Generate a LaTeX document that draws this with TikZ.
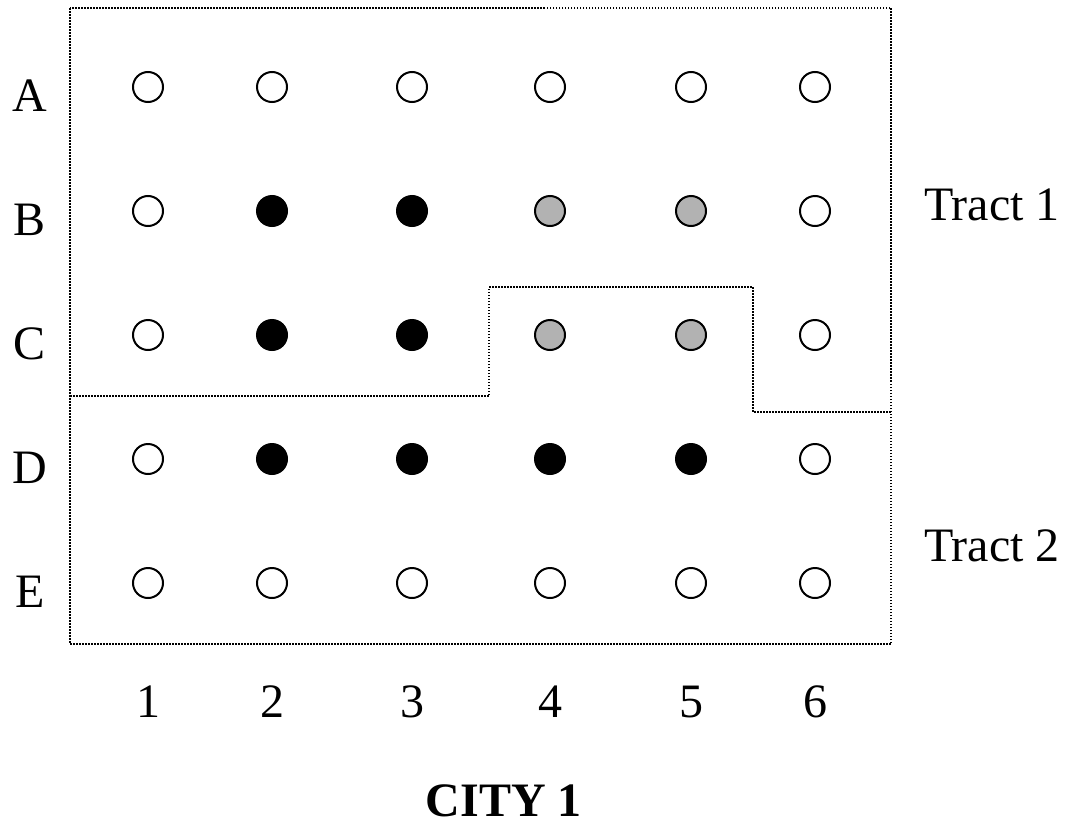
\documentclass[tikz,border=0pt]{standalone}
\usepackage{fontspec}
\setmainfont{Liberation Serif}
\definecolor{midgray}{gray}{0.7}
\tikzset{
  site/.style={circle,draw=black,line width=2pt,minimum size=30pt,inner sep=0pt},
  lab/.style={anchor=base,inner sep=0pt,font=\fontsize{48}{48}\selectfont},
  tract/.style={line width=1.5pt,dash pattern=on 1.5pt off 1.5pt}
}
\begin{document}
\begin{tikzpicture}[x=1pt,y=-1pt]
\useasboundingbox (0,0) rectangle (1073,827);
% tract boundaries
\draw[tract] (70,8) rectangle (891,644);
\draw[tract] (70,396) -- (489,396) -- (489,287) -- (753,287) -- (753,412) -- (891,412);
% blocks
\foreach \r/\y/\fills in {A/87/{white,white,white,white,white,white},
                          B/211/{white,black,black,midgray,midgray,white},
                          C/335/{white,black,black,midgray,midgray,white},
                          D/459/{white,black,black,black,black,white},
                          E/583/{white,white,white,white,white,white}}
{
  \node[lab] (row\r) at (30,\y+24) {\r};
  \foreach \f [count=\i] in \fills
  {
    \pgfmathsetmacro{\cx}{{148,272,412,550,691,815}[\i-1]}
    \node[site,fill=\f] (\r\i) at (\cx,\y) {};
  }
}
\foreach \i in {1,...,6}
{
  \node[lab] (col\i) at (A\i |- 0,717) {\i};
}
\node[lab] (tract1) at (992,220) {Tract 1};
\node[lab] (tract2) at (992,561) {Tract 2};
\node[anchor=base,inner sep=0pt,font=\fontsize{48}{48}\selectfont\bfseries] (city) at (504,816) {CITY 1};
\end{tikzpicture}
\end{document}
